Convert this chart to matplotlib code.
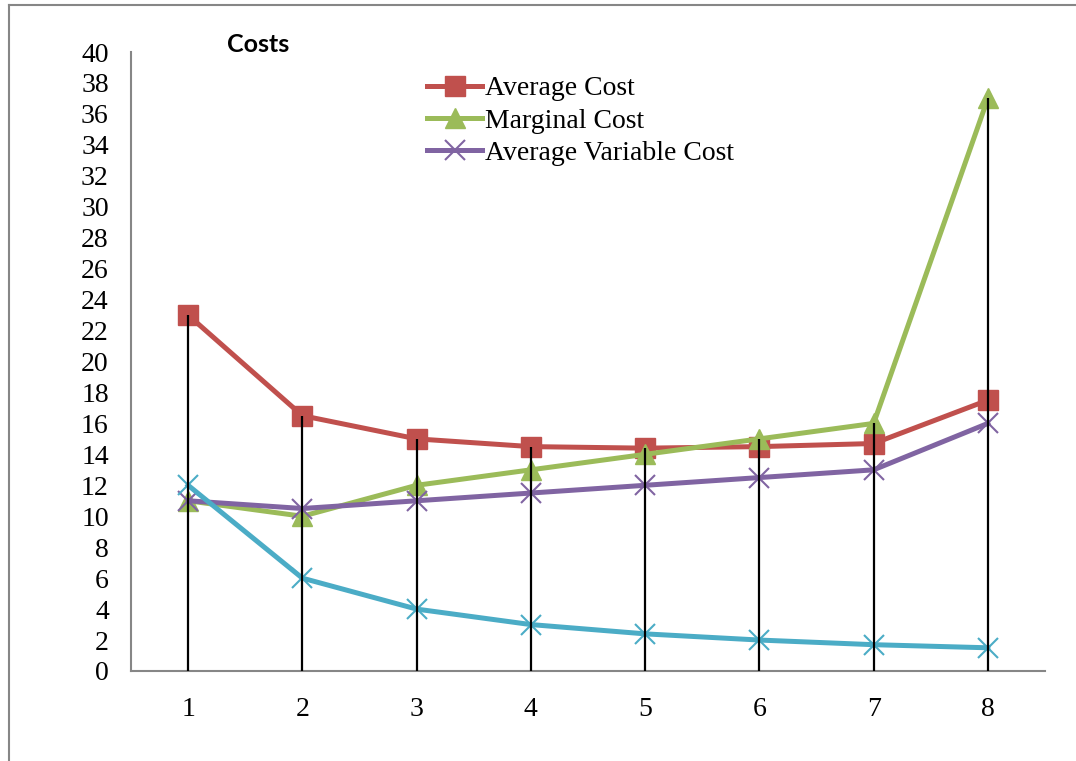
import matplotlib.pyplot as plt
from matplotlib.lines import Line2D

# --- data
quantity = [1, 2, 3, 4, 5, 6, 7, 8]
avg_cost = [23, 16.5, 15, 14.5, 14.4, 14.5, 14.7, 17.5]
marginal_cost = [11, 10, 12, 13, 14, 15, 16, 37]
avg_variable_cost = [11, 10.5, 11, 11.5, 12, 12.5, 13, 16]
avg_fixed_cost = [12, 6, 4, 3, 2.4, 2, 1.7, 1.5]
y_ticks = list(range(0, 41, 2))

serif = ['Liberation Serif', 'DejaVu Serif']

fig = plt.figure(figsize=(10.76, 7.61), dpi=100)
ax = fig.add_axes([131 / 1076, 1 - 671 / 761, 914 / 1076, 619 / 761])

# outer chart frame (top + left only visible)
fig.add_artist(Line2D([9 / 1076, 9 / 1076], [0, 1 - 5 / 761], color='#868686', lw=1.5))
fig.add_artist(Line2D([9 / 1076, 1], [1 - 5 / 761, 1 - 5 / 761], color='#868686', lw=1.5))

# --- series
ax.plot(quantity, avg_cost, color='#C0504D', lw=3.6, marker='s', ms=14,
        label='Average Cost', zorder=3)
ax.plot(quantity, marginal_cost, color='#9BBB59', lw=3.6, marker='^', ms=15,
        label='Marginal Cost', zorder=3)
ax.plot(quantity, avg_variable_cost, color='#8064A2', lw=3.6, marker='x', ms=14,
        mew=1.5, label='Average Variable Cost', zorder=3)
ax.plot(quantity, avg_fixed_cost, color='#4BACC6', lw=3.6, marker='x', ms=14,
        mew=1.5, zorder=3)

# drop lines from 0 to the highest value in each category
tops = [max(v) for v in zip(avg_cost, marginal_cost, avg_variable_cost, avg_fixed_cost)]
ax.vlines(quantity, 0, tops, color='black', lw=1.6, zorder=4)

# --- axes styling
ax.set_xlim(0.5, 8.5)
ax.set_ylim(0, 40)
ax.set_yticks(y_ticks)
ax.set_xticks(quantity)
for s in ['top', 'right']:
    ax.spines[s].set_visible(False)
for s in ['left', 'bottom']:
    ax.spines[s].set_color('#868686')
    ax.spines[s].set_linewidth(1.5)
ax.tick_params(length=0, labelsize=20)
ax.tick_params(axis='x', pad=19)
ax.tick_params(axis='y', pad=16)
for lab in ax.get_xticklabels() + ax.get_yticklabels():
    lab.set_family(serif)

fig.text(258 / 1076, 1 - 45 / 761, 'Costs', fontsize=18, fontweight='bold',
         family=['Lato', 'DejaVu Sans'], ha='center', va='center')

ax.legend(loc='upper left', bbox_to_anchor=(282 / 914, 1 - 10 / 619), frameon=False,
          prop={'family': serif, 'size': 20}, handlelength=2.0, handletextpad=0.1,
          labelspacing=0.25, borderpad=0)

fig.savefig('out.png', dpi=100)
